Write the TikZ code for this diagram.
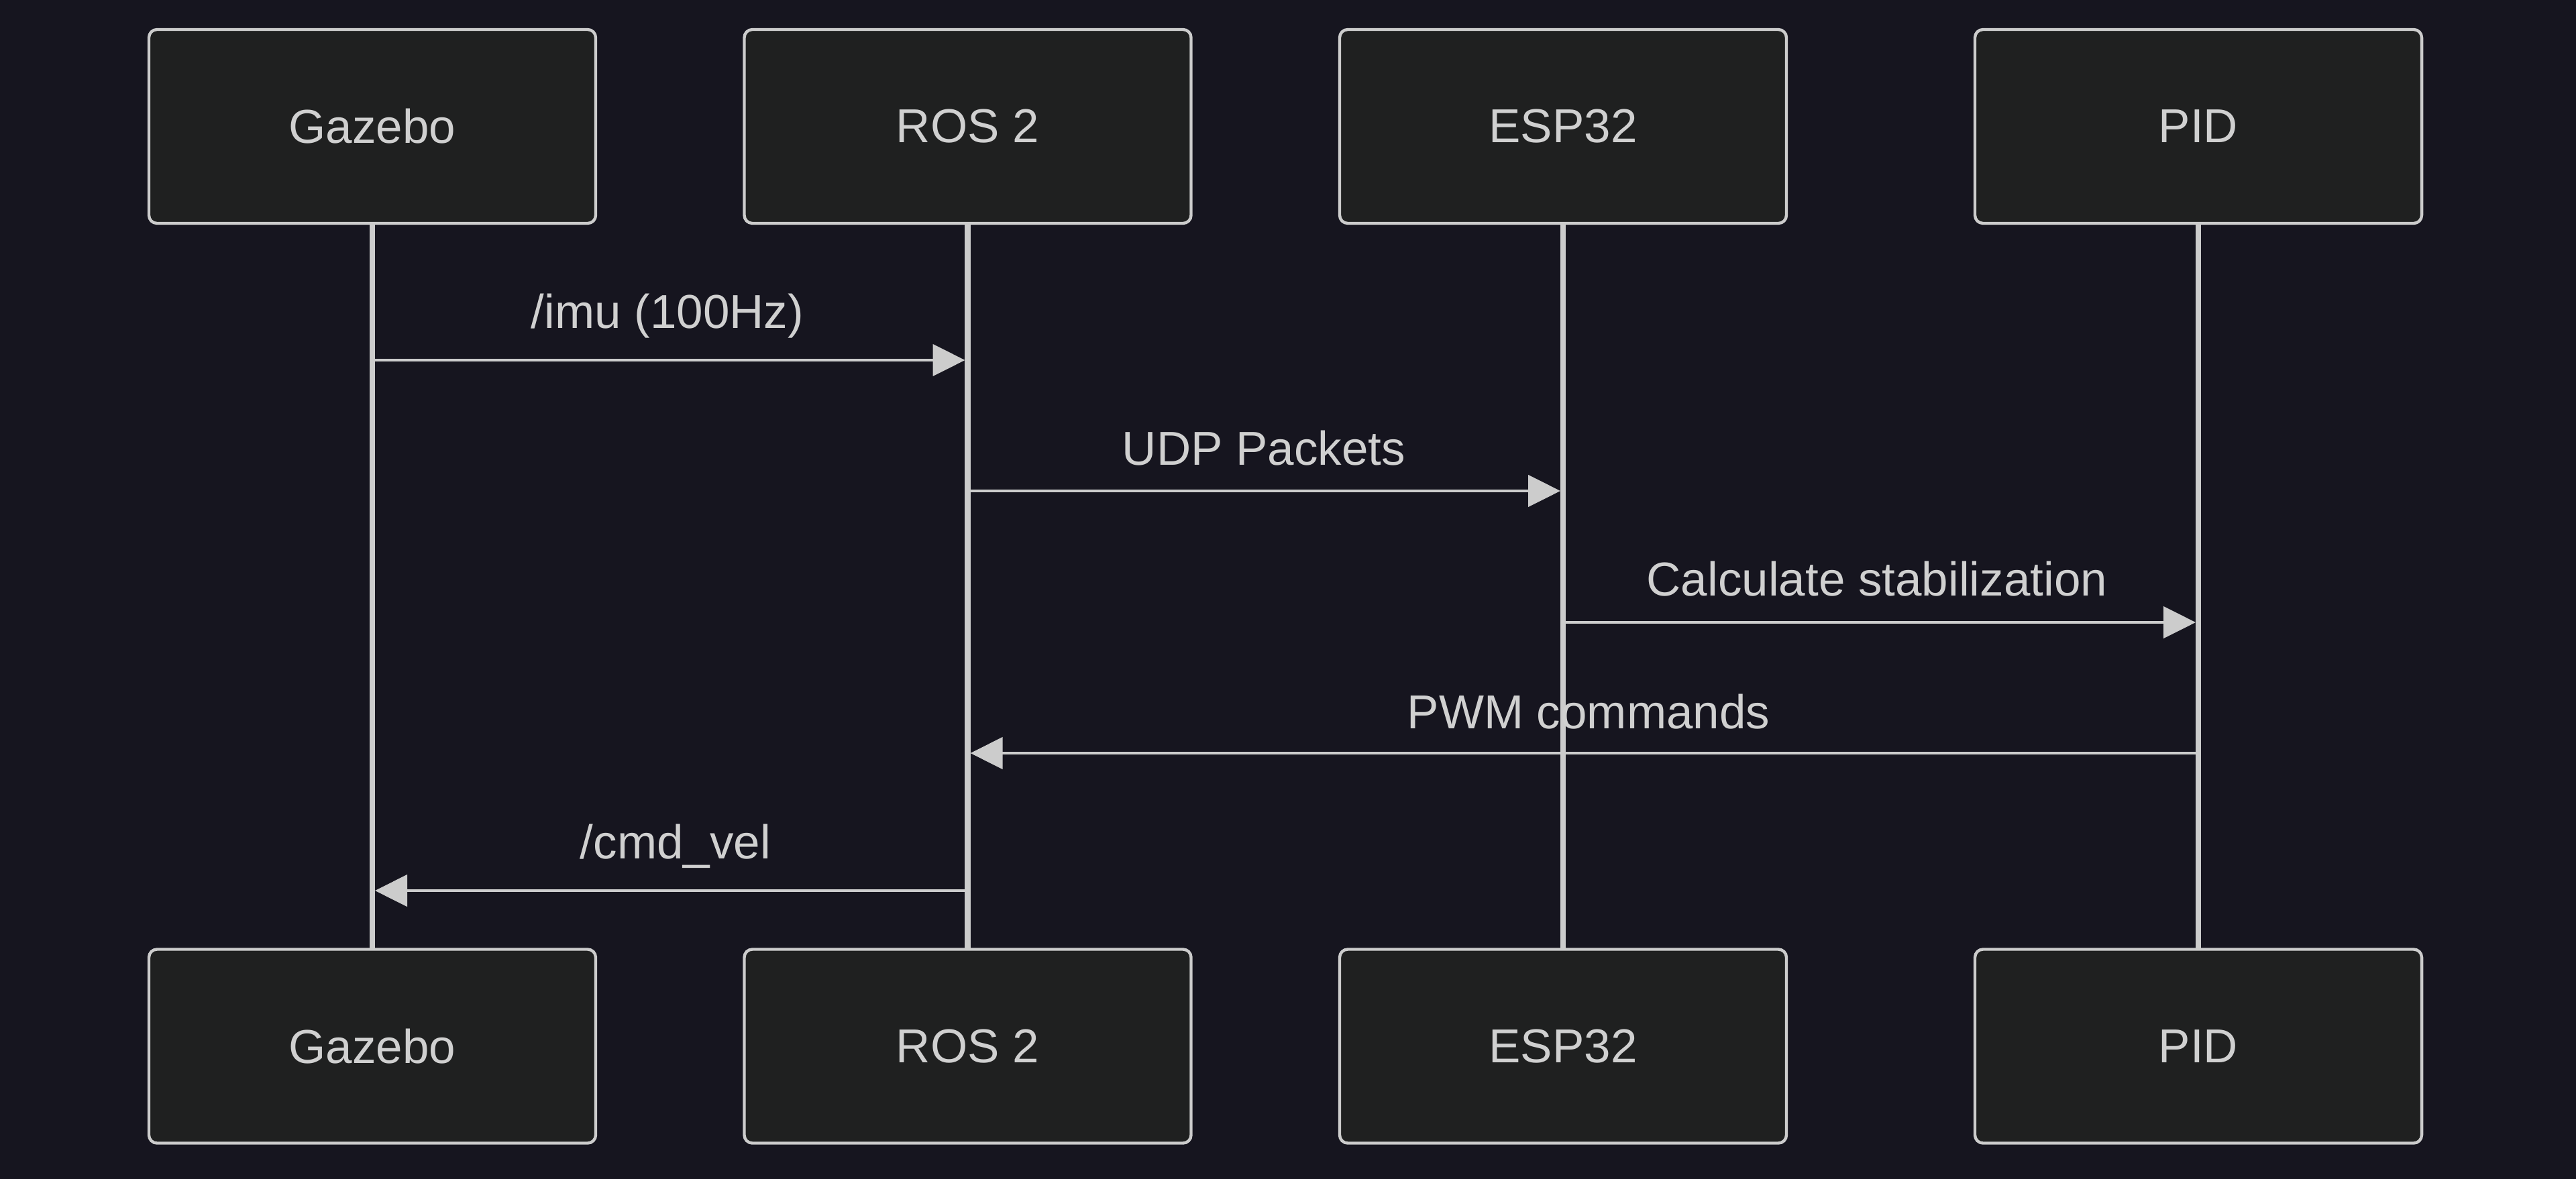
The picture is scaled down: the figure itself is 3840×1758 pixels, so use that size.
\documentclass[tikz,border=0pt]{standalone}
\usepackage{fontspec}
\setmainfont{Liberation Sans}
\usetikzlibrary{arrows.meta}
\definecolor{bg}{HTML}{16151F}
\definecolor{boxfill}{HTML}{1F2020}
\definecolor{ln}{HTML}{CCCCCC}
\definecolor{txt}{HTML}{D0D0D0}
\begin{document}
\begin{tikzpicture}[x=1pt,y=-1pt,
  actor/.style={draw=ln, line width=4.4pt, fill=boxfill, rounded corners=12pt,
    minimum width=666pt, minimum height=289pt, inner sep=0pt, outer sep=0pt,
    text=txt, font=\fontsize{71}{85}\selectfont},
  life/.style={draw=ln, line width=8.5pt},
  msg/.style={draw=ln, line width=4.4pt, -{Triangle[length=48pt,width=47pt,fill=ln]}},
  lbl/.style={anchor=base, inner sep=0pt, text=txt, font=\fontsize{71}{85}\selectfont}]
\fill[bg] (0,0) rectangle (3840,1758);
% top actors
\node[actor] (gT) at (555,188.5) {Gazebo};
\node[actor] (rT) at (1442.5,188.5) {ROS 2};
\node[actor] (eT) at (2330,188.5) {ESP32};
\node[actor] (pT) at (3277,188.5) {PID};
% bottom actors
\node[actor] (gB) at (555,1560) {Gazebo};
\node[actor] (rB) at (1442.5,1560) {ROS 2};
\node[actor] (eB) at (2330,1560) {ESP32};
\node[actor] (pB) at (3277,1560) {PID};
% lifelines
\draw[life] (gT.south) -- (gB.north);
\draw[life] (rT.south) -- (rB.north);
\draw[life] (eT.south) -- (eB.north);
\draw[life] (pT.south) -- (pB.north);
% message anchor points
\coordinate (g1) at (gT.south |- 0,537);
\coordinate (r1) at (rT.south |- 0,537);
\coordinate (r2) at (rT.south |- 0,732);
\coordinate (e2) at (eT.south |- 0,732);
\coordinate (e3) at (eT.south |- 0,928);
\coordinate (p3) at (pT.south |- 0,928);
\coordinate (p4) at (pT.south |- 0,1123);
\coordinate (r4) at (rT.south |- 0,1123);
\coordinate (r5) at (rT.south |- 0,1328);
\coordinate (g5) at (gT.south |- 0,1328);
% messages
\draw[msg] (g1) -- ([xshift=-4pt]r1);
\draw[msg] (r2) -- ([xshift=-4pt]e2);
\draw[msg] (e3) -- ([xshift=-4pt]p3);
\draw[msg] (p4) -- ([xshift=4pt]r4);
\draw[msg] (r5) -- ([xshift=4pt]g5);
% labels
\node[lbl] (l1) at (995,489) {/imu (100Hz)};
\node[lbl] (l2) at (1884,693) {UDP Packets};
\node[lbl] (l3) at (2798,888) {Calculate stabilization};
\node[lbl] (l4) at (2368,1086) {PWM commands};
\node[lbl] (l5) at (1007,1280) {/cmd\_vel};
\end{tikzpicture}
\end{document}
